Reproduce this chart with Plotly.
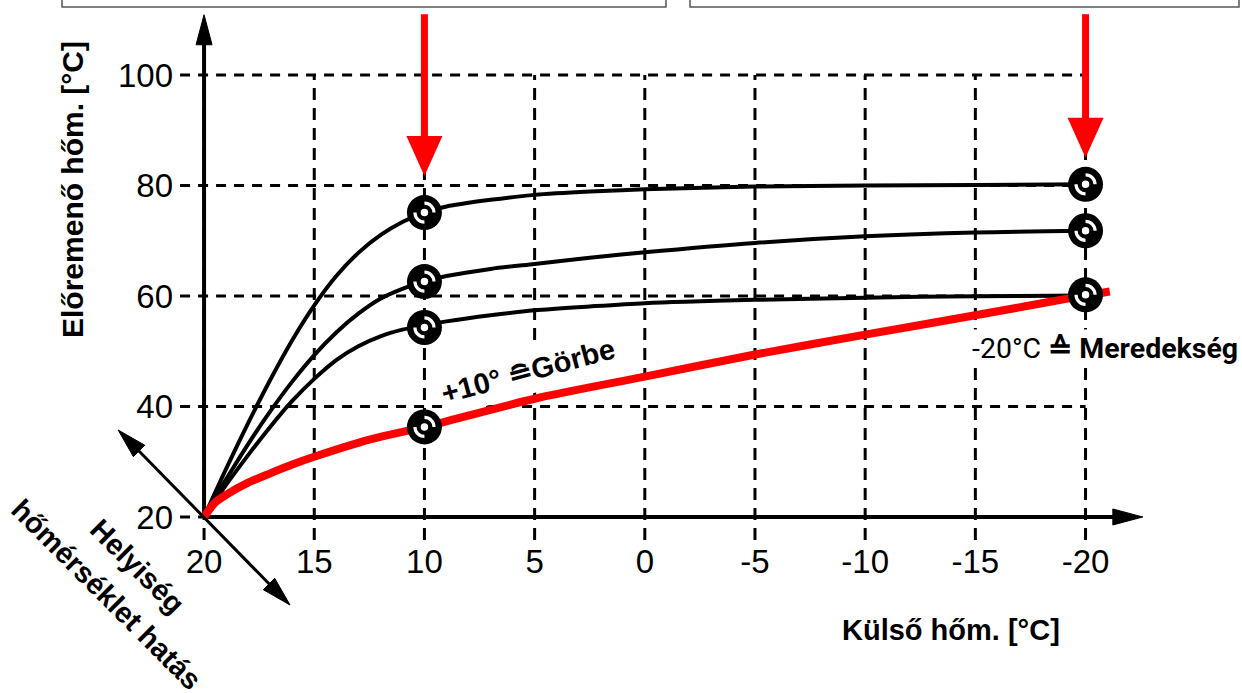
import plotly.graph_objects as go

# ---------------- data ----------------
x_ticks = [20, 15, 10, 5, 0, -5, -10, -15, -20]
x_tick_text = ["20", "15", "10", "5", "0", "-5", "-10", "-15", "-20"]
y_ticks = [20, 40, 60, 80, 100]
y_tick_text = ["20", "40", "60", "80", "100"]

top_x = [20, 19, 18, 17, 16, 15, 14, 13, 12, 11, 10, 9, 7, 5, 2.5, 0, -5, -10, -15, -20]
top_y = [20, 28.7, 37, 44.8, 52, 58.3, 63.6, 67.8, 71.0, 73.4, 75.1, 76.2, 77.4, 78.3, 78.9, 79.3, 79.8, 80.0, 80.1, 80.2]

mid_x = [20, 19, 18, 17, 16, 15, 14, 13, 12, 11, 10, 9, 7, 5, 2.5, 0, -5, -10, -15, -20]
mid_y = [20, 26.8, 33.2, 39.1, 44.5, 49.3, 53.4, 56.8, 59.5, 61.3, 62.6, 63.6, 64.9, 65.8, 66.9, 67.9, 69.6, 70.8, 71.5, 71.8]

low_x = [20, 19, 18, 17, 16, 15, 14, 13, 12, 11, 10, 9, 7, 5, 2.5, 0, -5, -10, -15, -20]
low_y = [20, 25.8, 31.2, 36.3, 41.0, 45.0, 48.4, 50.9, 52.7, 53.9, 54.7, 55.4, 56.5, 57.4, 58.1, 58.7, 59.3, 59.7, 59.95, 60.1]

red_x = [20, 19.5, 19, 18, 17, 16, 15, 12.5, 10, 5, 0, -5, -10, -15, -20, -21.1]
red_y = [20, 22.6, 24.0, 26.2, 27.9, 29.5, 30.9, 34.0, 36.3, 41.4, 45.4, 49.4, 53.0, 56.5, 60.1, 60.8]

marker_x = [10, 10, 10, 10, -20, -20, -20]
marker_y = [75.1, 62.6, 54.3, 36.3, 80.2, 71.8, 60.2]

# decorative arrow anchors (data units)
origin = (20, 20)
y_arrow_tip = 110.9
x_arrow_tip = -22.6
diag_end_a = (23.9, 35.75)
diag_end_b = (16.1, 4.07)
red_arrow_x = [10, -20]
red_arrow_tip = [81.7, 85.0]
red_arrow_top = 111.0
curve_label_pos = (5.30, 46.43)

W, H = 1242, 693
X_RANGE = [29.26, -27.10]
Y_RANGE = [-11.86, 113.57]

FONT = "Liberation Sans"


def paper(px, py):
    return px / W, 1 - py / H


fig = go.Figure()

# curves
for xs, ys in [(top_x, top_y), (mid_x, mid_y), (low_x, low_y)]:
    fig.add_trace(go.Scatter(x=xs, y=ys, mode="lines",
                             line=dict(color="black", width=4, shape="spline", smoothing=0.8),
                             hoverinfo="skip", showlegend=False))
fig.add_trace(go.Scatter(x=red_x, y=red_y, mode="lines",
                         line=dict(color="#ff0000", width=8, shape="spline", smoothing=0.8),
                         hoverinfo="skip", showlegend=False))

# markers (layered symbol: black disc, white ring broken by a black bowtie, white centre)
fig.add_trace(go.Scatter(x=marker_x, y=marker_y, mode="markers",
                         marker=dict(symbol="circle", size=35, color="black", line=dict(width=0)),
                         showlegend=False, hoverinfo="skip"))
fig.add_trace(go.Scatter(x=marker_x, y=marker_y, mode="markers",
                         marker=dict(symbol="circle-open", size=19, color="white", line=dict(width=3.2, color="white")),
                         showlegend=False, hoverinfo="skip"))
fig.add_trace(go.Scatter(x=marker_x, y=marker_y, mode="markers",
                         marker=dict(symbol="bowtie", size=24.5, color="black", angle=45, line=dict(width=0)),
                         showlegend=False, hoverinfo="skip"))
fig.add_trace(go.Scatter(x=marker_x, y=marker_y, mode="markers",
                         marker=dict(symbol="circle", size=9, color="white", line=dict(width=1.5, color="black")),
                         showlegend=False, hoverinfo="skip"))

shapes = []
# grid
y_low = 20 - 23 / 5.525
x_left = 20 + 24 / 22.04
for xv in x_ticks:
    shapes.append(dict(type="line", xref="x", yref="y", x0=xv, x1=xv, y0=y_low, y1=100,
                       line=dict(color="black", width=3, dash="12px,8px"), layer="below"))
for yv in y_ticks:
    shapes.append(dict(type="line", xref="x", yref="y", x0=x_left, x1=-20, y0=yv, y1=yv,
                       line=dict(color="black", width=3, dash="10px,8px"), layer="below"))
# white backing behind the rotated curve label (above grid, below traces)
shapes.append(dict(type="path", xref="x", yref="y", xsizemode="pixel", ysizemode="pixel",
                   xanchor=curve_label_pos[0], yanchor=curve_label_pos[1],
                   path="M 80.9 45.5 L 92.9 1.1 L -80.9 -45.5 L -92.9 -1.1 Z",
                   fillcolor="white", line=dict(width=0), layer="below"))

# axes lines
shapes.append(dict(type="line", xref="x", yref="y", x0=origin[0], x1=origin[0], y0=origin[1], y1=y_arrow_tip - 3,
                   line=dict(color="black", width=4), layer="below"))
shapes.append(dict(type="line", xref="x", yref="y", x0=origin[0], x1=x_arrow_tip + 0.8, y0=origin[1], y1=origin[1],
                   line=dict(color="black", width=4), layer="below"))
shapes.append(dict(type="path", xref="x", yref="y", xsizemode="pixel", ysizemode="pixel",
                   xanchor=origin[0], yanchor=y_arrow_tip, path="M 0 0 L -8 -30 L 8 -30 Z",
                   fillcolor="black", line=dict(color="black", width=1)))
shapes.append(dict(type="path", xref="x", yref="y", xsizemode="pixel", ysizemode="pixel",
                   xanchor=x_arrow_tip, yanchor=origin[1], path="M 0 0 L -30 8 L -30 -8 Z",
                   fillcolor="black", line=dict(color="black", width=1)))
# diagonal double arrow
shapes.append(dict(type="line", xref="x", yref="y", x0=diag_end_a[0] - 0.6, y0=diag_end_a[1] - 2.4,
                   x1=diag_end_b[0] + 0.6, y1=diag_end_b[1] + 2.4,
                   line=dict(color="black", width=3)))
shapes.append(dict(type="path", xref="x", yref="y", xsizemode="pixel", ysizemode="pixel",
                   xanchor=diag_end_a[0], yanchor=diag_end_a[1], path="M 0 0 L 26.7 -15.3 L 15.3 -26.7 Z",
                   fillcolor="black", line=dict(color="black", width=1)))
shapes.append(dict(type="path", xref="x", yref="y", xsizemode="pixel", ysizemode="pixel",
                   xanchor=diag_end_b[0], yanchor=diag_end_b[1], path="M 0 0 L -15.3 26.7 L -26.7 15.3 Z",
                   fillcolor="black", line=dict(color="black", width=1)))
# red arrows
for xv, tip in zip(red_arrow_x, red_arrow_tip):
    shapes.append(dict(type="line", xref="x", yref="y", x0=xv, x1=xv, y0=red_arrow_top, y1=tip + 30 / 5.525,
                       line=dict(color="#ff0000", width=7)))
    shapes.append(dict(type="path", xref="x", yref="y", xsizemode="pixel", ysizemode="pixel",
                       xanchor=xv, yanchor=tip, path="M 0 0 L -18 40 L 18 40 Z",
                       fillcolor="#ff0000", line=dict(width=0)))
# top boxes
bx0, by0 = paper(62, 7)
bx1, _ = paper(666, 7)
shapes.append(dict(type="rect", xref="paper", yref="paper", x0=bx0, x1=bx1, y0=by0, y1=1.1,
                   line=dict(color="#555555", width=1.5)))
bx0, by0 = paper(690, 7)
bx1, _ = paper(1239, 7)
shapes.append(dict(type="rect", xref="paper", yref="paper", x0=bx0, x1=bx1, y0=by0, y1=1.1,
                   line=dict(color="#555555", width=1.5)))

annotations = []


def ann(text, px, py, size, angle=0, bold=True, family=FONT, xanchor="center", bg=None):
    ax_, ay_ = paper(px, py)
    d = dict(text=("<b>%s</b>" % text) if bold else text, x=ax_, y=ay_,
             xref="paper", yref="paper", showarrow=False, textangle=angle,
             xanchor=xanchor, yanchor="middle",
             font=dict(family=family, size=size, color="black"))
    if bg:
        d.update(bgcolor=bg, borderpad=2)
    annotations.append(d)


ann("Előremenő hőm. [°C]", 72, 190, 30, angle=-90)
ann("Külső hőm. [°C]", 951, 630, 29)
ann("+10° ≘Görbe", 528, 371, 29, angle=-15)
ann("-20°C <b>≙ Meredekség</b>", 1241, 348, 28.5, bold=False, family="Roboto", xanchor="right", bg="white")
ann("Helyiség", 137, 566, 29, angle=45)
ann("hőmérséklet hatás", 107, 595, 29, angle=45)

fig.update_layout(
    width=W, height=H,
    margin=dict(l=0, r=0, t=0, b=0),
    paper_bgcolor="white", plot_bgcolor="white",
    showlegend=False,
    shapes=shapes, annotations=annotations,
    xaxis=dict(range=X_RANGE, showgrid=False, zeroline=False, showline=False, fixedrange=True,
               tickmode="array", tickvals=x_ticks, ticktext=x_tick_text, ticks="",
               anchor="free", position=(20 - Y_RANGE[0]) / (Y_RANGE[1] - Y_RANGE[0]),
               ticklabelstandoff=22, tickfont=dict(family=FONT, size=33, color="black")),
    yaxis=dict(range=Y_RANGE, showgrid=False, zeroline=False, showline=False, fixedrange=True,
               tickmode="array", tickvals=y_ticks, ticktext=y_tick_text, ticks="",
               anchor="free", position=(X_RANGE[0] - 20) / (X_RANGE[0] - X_RANGE[1]),
               ticklabelstandoff=31, tickfont=dict(family=FONT, size=33, color="black")),
)

fig.write_html("out.html", config={"displayModeBar": False},
               post_script="document.body.style.margin='0';document.body.style.padding='0';")
